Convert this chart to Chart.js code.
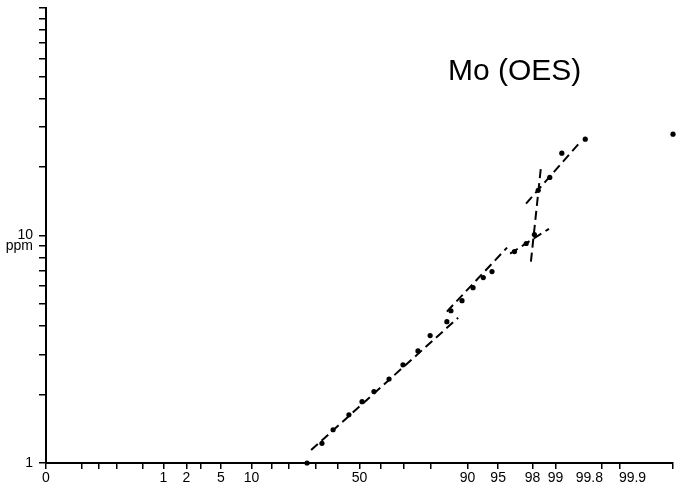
<!DOCTYPE html>
<html>
<head>
<meta charset="utf-8">
<script src="https://cdn.jsdelivr.net/npm/chart.js@4.4.0/dist/chart.umd.min.js"></script>
<style>
  html, body { margin: 0; padding: 0; background: #fff; }
  #wrap { width: 683px; height: 486px; }
</style>
</head>
<body>
<div id="wrap"><canvas id="moChart"></canvas></div>
<script>
// Valores (probabilidad acumulada en %, concentración en ppm)
const cumPercent = [26.7, 32.8, 37.7, 45.0, 51.2, 56.8, 63.7, 69.7, 75.6, 79.9, 85.0, 86.1,
                    88.8, 91.1, 92.9, 94.2, 96.7, 97.6, 98.1, 98.3, 98.8, 99.18, 99.63, 99.99];
const moPpm = [1.0, 1.22, 1.40, 1.63, 1.86, 2.06, 2.34, 2.70, 3.11, 3.63, 4.18, 4.67,
               5.17, 5.90, 6.53, 6.94, 8.50, 9.22, 10.1, 15.8, 18.0, 23.0, 26.5, 27.9];

// Rectas ajustadas (extremos de cada tramo)
const fitAPercent = [28.3, 87.9], fitAPpm = [1.14, 4.35];
const fitBPercent = [85.0, 96.0], fitBPpm = [4.63, 8.85];
const fitCPercent = [96.3, 98.77], fitCPpm = [8.33, 10.7];
const fitDPercent = [97.9, 98.43], fitDPpm = [7.68, 19.9];
const fitEPercent = [97.59, 99.555], fitEPpm = [13.8, 25.7];

// Marcas del eje X (papel de probabilidad)
const xTickPercents = [0.01, 0.05, 0.1, 0.2, 0.5, 1, 2, 3, 5, 10, 15, 20, 30, 40, 50,
                       60, 70, 80, 90, 95, 98, 99, 99.8, 99.9, 99.99];
const xTickLabels = ['0', '', '', '', '', '1', '2', '', '5', '10', '', '', '', '', '50',
                     '', '', '', '90', '95', '98', '99', '', '', ''];
// En el original las etiquetas 99.8 y 99.9 quedan desplazadas de su marca
const xLabelOnlyPercents = [99.68, 99.94];
const xLabelOnlyTexts = ['99.8', '99.9'];

// Marcas del eje Y (logarítmico)
const yTickValues = [1, 2, 3, 4, 5, 6, 7, 8, 9, 10, 20, 30, 40, 50, 60, 70, 80, 90, 100];
const yTickLabels = ['1', '', '', '', '', '', '', '', '', '10', '', '', '', '', '', '', '', '', ''];

const titleText = 'Mo (OES)';
const unitText = 'ppm';

// Inversa de la normal (Acklam)
function probit(p) {
    const a = [-3.969683028665376e+01, 2.209460984245205e+02, -2.759285104469687e+02,
               1.383577518672690e+02, -3.066479806614716e+01, 2.506628277459239e+00];
    const b = [-5.447609879822406e+01, 1.615858368580409e+02, -1.556989798598866e+02,
               6.680131188771972e+01, -1.328068155288572e+01];
    const c = [-7.784894002430293e-03, -3.223964580411365e-01, -2.400758277161838e+00,
               -2.549732968962976e+00, 4.374664141464968e+00, 2.938163982698783e+00];
    const d = [7.784695709041462e-03, 3.224671290700398e-01, 2.445134137142996e+00,
               3.754408661907416e+00];
    const plow = 0.02425;
    let q, r;
    if (p < plow) {
        q = Math.sqrt(-2 * Math.log(p));
        return (((((c[0] * q + c[1]) * q + c[2]) * q + c[3]) * q + c[4]) * q + c[5]) /
               ((((d[0] * q + d[1]) * q + d[2]) * q + d[3]) * q + 1);
    }
    if (p <= 1 - plow) {
        q = p - 0.5;
        r = q * q;
        return (((((a[0] * r + a[1]) * r + a[2]) * r + a[3]) * r + a[4]) * r + a[5]) * q /
               (((((b[0] * r + b[1]) * r + b[2]) * r + b[3]) * r + b[4]) * r + 1);
    }
    q = Math.sqrt(-2 * Math.log(1 - p));
    return -(((((c[0] * q + c[1]) * q + c[2]) * q + c[3]) * q + c[4]) * q + c[5]) /
            ((((d[0] * q + d[1]) * q + d[2]) * q + d[3]) * q + 1);
}

function toPoints(percents, values) {
    return percents.map((p, i) => ({ x: probit(p / 100), y: values[i] }));
}

function fitLine(percents, values) {
    return {
        type: 'line',
        data: toPoints(percents, values),
        borderColor: '#000',
        borderWidth: 2,
        borderDash: [9, 5],
        pointRadius: 0,
        fill: false
    };
}

// marcas reales + marcas solo de etiqueta (sin raya)
const xTicksAll = xTickPercents.map((p, i) => ({ p: p, label: xTickLabels[i], mark: true }))
    .concat(xLabelOnlyPercents.map((p, i) => ({ p: p, label: xLabelOnlyTexts[i], mark: false })))
    .sort((u, v) => u.p - v.p);

const FONT = '"Liberation Sans", Arial, sans-serif';

const extraText = {
    id: 'extraText',
    afterDraw(chart) {
        const ctx = chart.ctx;
        const y = chart.scales.y;
        ctx.save();
        ctx.fillStyle = '#000';
        ctx.font = '30px ' + FONT;
        ctx.textAlign = 'left';
        ctx.textBaseline = 'alphabetic';
        ctx.fillText(titleText, 448, 80);
        ctx.font = '14px ' + FONT;
        ctx.textAlign = 'right';
        ctx.textBaseline = 'middle';
        ctx.fillText(unitText, 33, y.getPixelForValue(10) + 11);
        ctx.restore();
    }
};

const ctx = document.getElementById('moChart').getContext('2d');
new Chart(ctx, {
    type: 'scatter',
    data: {
        datasets: [
            fitLine(fitAPercent, fitAPpm),
            fitLine(fitBPercent, fitBPpm),
            fitLine(fitCPercent, fitCPpm),
            fitLine(fitDPercent, fitDPpm),
            fitLine(fitEPercent, fitEPpm),
            {
                data: toPoints(cumPercent, moPpm),
                backgroundColor: '#000',
                borderWidth: 0,
                pointRadius: 2.6,
                clip: false
            }
        ]
    },
    options: {
        responsive: true,
        maintainAspectRatio: false,
        animation: false,
        layout: { padding: { left: 0, right: 10, top: 8, bottom: 0 } },
        plugins: {
            legend: { display: false },
            tooltip: { enabled: false }
        },
        scales: {
            x: {
                type: 'linear',
                min: probit(0.0001),
                max: probit(0.9999),
                afterBuildTicks: (scale) => {
                    scale.ticks = xTicksAll.map(t => ({ value: probit(t.p / 100) }));
                },
                afterFit: (scale) => {
                    scale.height = 23;
                    scale.paddingLeft = 0;
                    scale.paddingRight = 0;
                },
                ticks: {
                    autoSkip: false,
                    maxRotation: 0,
                    padding: 1,
                    color: '#000',
                    font: { family: FONT, size: 14 },
                    callback: (value, index) => xTicksAll[index].label
                },
                grid: {
                    drawOnChartArea: false,
                    drawTicks: true,
                    tickLength: 6,
                    color: (c) => (c.index !== undefined && xTicksAll[c.index] && !xTicksAll[c.index].mark) ? 'rgba(0,0,0,0)' : '#000',
                    lineWidth: 1.5
                },
                border: { display: true, color: '#000', width: 2 }
            },
            y: {
                type: 'logarithmic',
                min: 1,
                max: 100,
                afterBuildTicks: (scale) => {
                    scale.ticks = yTickValues.map(v => ({ value: v }));
                },
                afterFit: (scale) => {
                    scale.width = 46;
                    scale.paddingTop = 0;
                    scale.paddingBottom = 0;
                },
                ticks: {
                    autoSkip: false,
                    padding: 6,
                    color: '#000',
                    font: { family: FONT, size: 14 },
                    callback: (value, index) => yTickLabels[index]
                },
                grid: {
                    drawOnChartArea: false,
                    drawTicks: true,
                    tickLength: 7,
                    color: '#000',
                    lineWidth: 1.5
                },
                border: { display: true, color: '#000', width: 2 }
            }
        }
    },
    plugins: [extraText]
});
</script>
</body>
</html>
